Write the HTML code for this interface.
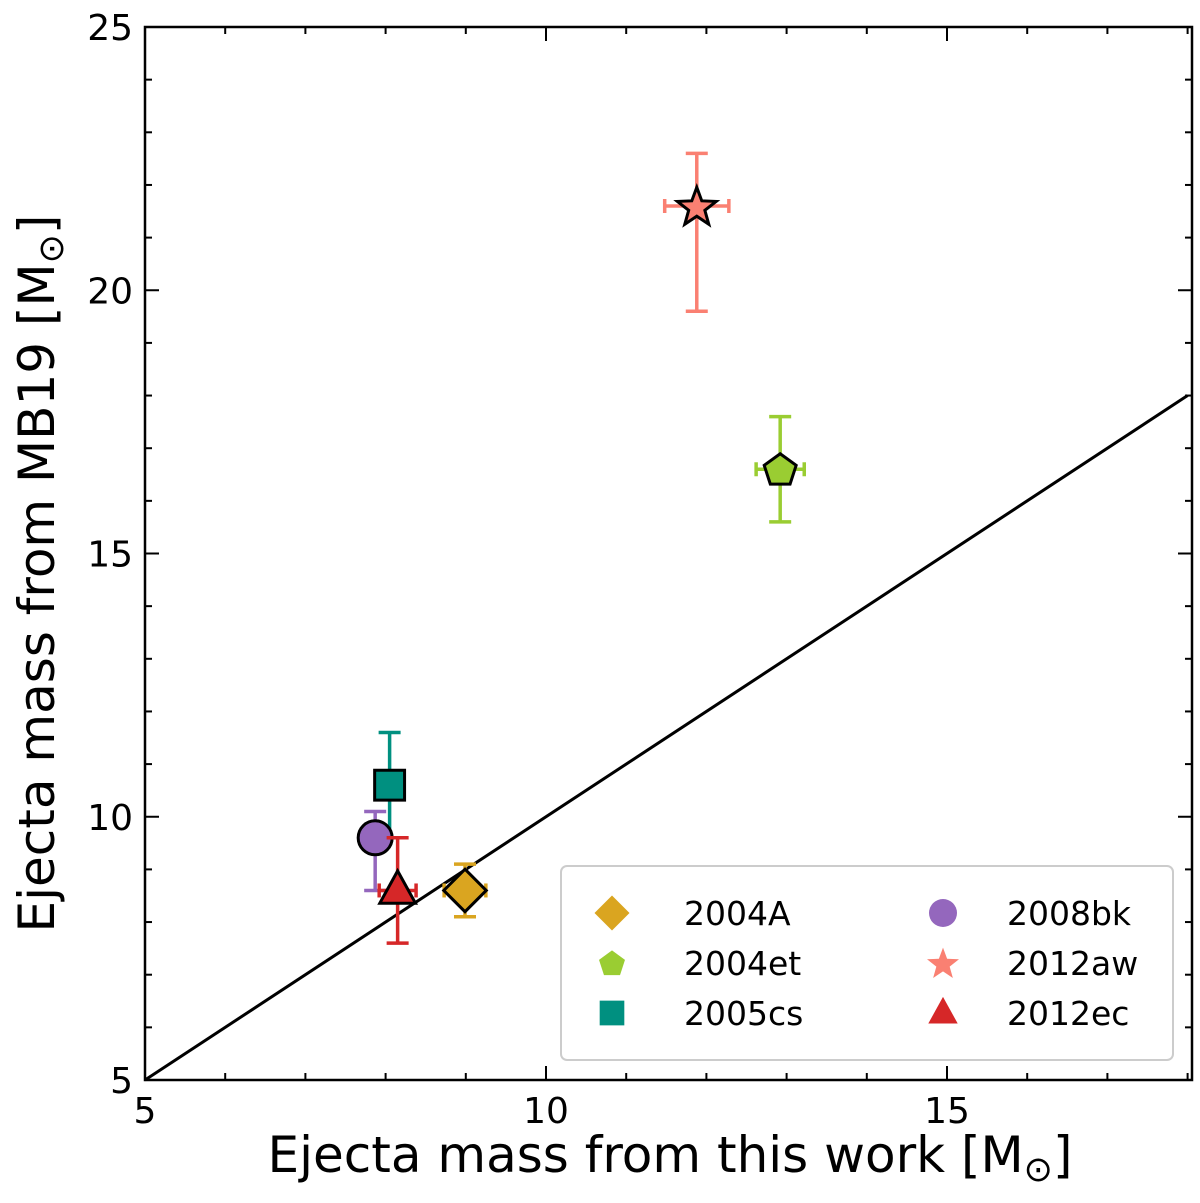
<!DOCTYPE html>
<html><head><meta charset="utf-8"><style>
body{margin:0;background:#fff}
svg{display:block;font-family:"DejaVu Sans","Liberation Sans",sans-serif}
</style></head><body>
<svg id="c" width="1200" height="1203" viewBox="0 0 1200 1203"></svg>
<script>
const names=["2004A","2004et","2005cs","2008bk","2012aw","2012ec"];
const xVals=[8.99,12.92,8.05,7.87,11.88,8.15];
const yVals=[8.6,16.6,10.6,9.6,21.6,8.6];
const xErr=[0.26,0.3,0,0,0.4,0.23];
const yErrUp=[0.5,1.0,1.0,0.5,1.0,1.0];
const yErrDown=[0.5,1.0,1.0,1.0,2.0,1.0];
const colors=["#DAA520","#9ACD32","#009080","#9467BD","#FA8072","#D62728"];
const markers=["diamond","pentagon","square","circle","star","triangle"];
const xTicks=[5,10,15];
const yTicks=[5,10,15,20,25];
const NS="http://www.w3.org/2000/svg";
const svg=document.getElementById('c');
const L=145,R=1192,T=27,B=1080,x0=5,x1=18,y0=5,y1=25;
const sx=v=>L+(v-x0)*(947-145)/10;
const sy=v=>B-(v-y0)*(B-T)/(y1-y0);
function el(t,a,p){const e=document.createElementNS(NS,t);for(const k in a)e.setAttribute(k,a[k]);(p||svg).appendChild(e);return e;}
function shape(type,cx,cy,s,fill,parent,stroke){
  let pts;
  if(type==="circle") return el('circle',{cx,cy,r:s,fill,stroke:stroke,"stroke-width":3},parent);
  if(type==="square") pts=[[-1,-1],[1,-1],[1,1],[-1,1]].map(p=>[p[0]*s*0.88,p[1]*s*0.88]);
  else if(type==="diamond") pts=[[0,-1.25],[1.25,0],[0,1.25],[-1.25,0]].map(p=>[p[0]*s,p[1]*s]);
  else if(type==="triangle") pts=[[0,-1.15],[1.05,0.75],[-1.05,0.75]].map(p=>[p[0]*s,p[1]*s]);
  else if(type==="pentagon"){pts=[];for(let i=0;i<5;i++){const a=-Math.PI/2+i*2*Math.PI/5;pts.push([Math.cos(a)*s*1.05,Math.sin(a)*s*1.05+s*0.08]);}}
  else if(type==="star"){pts=[];for(let i=0;i<10;i++){const a=-Math.PI/2+i*Math.PI/5;const r=i%2?s*0.5:s*1.2;pts.push([Math.cos(a)*r,Math.sin(a)*r+s*0.1]);}}
  return el('polygon',{points:pts.map(p=>(cx+p[0])+','+(cy+p[1])).join(' '),fill,stroke:stroke,"stroke-width":3,"stroke-linejoin":"miter"},parent);
}
const frame=el('rect',{x:L,y:T,width:R-L,height:B-T,fill:'none',stroke:'#000','stroke-width':2.5});

for(let v=5;v<=18;v++){const X=sx(v);const len=xTicks.includes(v)?14:7;
  el('line',{x1:X,y1:B,x2:X,y2:B-len,stroke:'#000','stroke-width':2});
  el('line',{x1:X,y1:T,x2:X,y2:T+len,stroke:'#000','stroke-width':2});}
for(let v=5;v<=25;v++){const Y=sy(v);const len=yTicks.includes(v)?14:7;
  el('line',{x1:L,y1:Y,x2:L+len,y2:Y,stroke:'#000','stroke-width':2});
  el('line',{x1:R,y1:Y,x2:R-len,y2:Y,stroke:'#000','stroke-width':2});}
xTicks.forEach(v=>{const t=el('text',{x:sx(v),y:B+43,'text-anchor':'middle','font-size':36});t.textContent=v;
  });
yTicks.forEach(v=>{const t=el('text',{x:L-12,y:sy(v)+13,'text-anchor':'end','font-size':36});t.textContent=v;
  });
function title(t,txt){t.appendChild(document.createTextNode(txt));
  const s=el('tspan',{'font-size':35,dy:9},t);s.textContent='\u2299';
  const e=el('tspan',{dy:-9},t);e.textContent=']';}
const xl=el('text',{x:670,y:1172,'text-anchor':'middle','font-size':50});title(xl,'Ejecta mass from this work [M');

const yl=el('text',{x:0,y:0,'text-anchor':'middle','font-size':50,transform:`translate(54,${(T+B)/2+20}) rotate(-90)`});title(yl,'Ejecta mass from MB19 [M');

const ln=el('line',{x1:sx(5),y1:sy(5),x2:sx(18),y2:sy(18),stroke:'#000','stroke-width':3});

names.forEach((n,i)=>{
  const g=el('g',{});
  
  const c=colors[i],X=sx(xVals[i]),Y=sy(yVals[i]);
  const yt=sy(yVals[i]+yErrUp[i]),yb=sy(yVals[i]-yErrDown[i]);
  el('line',{x1:X,y1:yt,x2:X,y2:yb,stroke:c,'stroke-width':3.5},g);
  el('line',{x1:X-11,y1:yt,x2:X+11,y2:yt,stroke:c,'stroke-width':3.5},g);
  el('line',{x1:X-11,y1:yb,x2:X+11,y2:yb,stroke:c,'stroke-width':3.5},g);
  if(xErr[i]>0){const xa=sx(xVals[i]-xErr[i]),xb=sx(xVals[i]+xErr[i]);
    el('line',{x1:xa,y1:Y,x2:xb,y2:Y,stroke:c,'stroke-width':3.5},g);
    el('line',{x1:xa,y1:Y-7,x2:xa,y2:Y+7,stroke:c,'stroke-width':3.5},g);
    el('line',{x1:xb,y1:Y-7,x2:xb,y2:Y+7,stroke:c,'stroke-width':3.5},g);}
  shape(markers[i],X,Y,markers[i]==="pentagon"?16:17,c,g,'#000');
});
const lg=el('g',{});
el('rect',{x:561,y:866,width:612,height:194,rx:6,fill:'#fff',stroke:'#ccc','stroke-width':2},lg);
names.forEach((n,i)=>{
  const col=Math.floor(i/3),row=i%3;
  const mx=col?943:612,my=913+row*50;
  const e=el('g',{},lg);
  shape(markers[i],mx,my,markers[i]==="pentagon"?13:14,colors[i],e,'none');
  const t=el('text',{x:col?1007:684,y:my+12,'font-size':33},e);t.textContent=n;
});
</script>
</body></html>
